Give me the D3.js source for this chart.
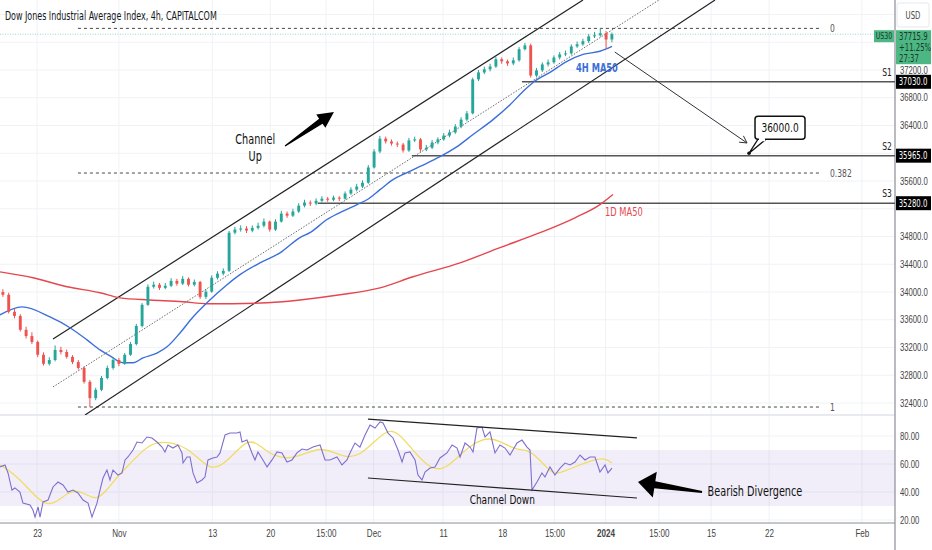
<!DOCTYPE html>
<html>
<head>
<meta charset="utf-8">
<script src="https://cdn.jsdelivr.net/npm/d3@7"></script>
<style>
  body { margin: 0; background: #fff; }
  svg { display: block; font-family: "DejaVu Sans Condensed", "DejaVu Sans", sans-serif; font-stretch: condensed; }
</style>
</head>
<body>
<div id="chart"></div>
<script>
// ---- data (12h candles, day index = trading days from the left edge) ----
const title = "Dow Jones Industrial Average Index, 4h, CAPITALCOM";
const firstOpen = 34000;
const closes = [
  33960, 33715, 33655, 33455, 33365, 33280, 33095, 32965, 33020, 33165,
  33135, 33065, 32990, 32905, 32705, 32470, 32590, 32760, 32905, 33020,
  32965, 33095, 33250, 33510, 33815, 34075, 34105, 34060, 34090, 34160,
  34120, 34190, 34105, 34145, 33930, 34005, 34205, 34265, 34305, 34855,
  34900, 34915, 34885, 34925, 34955, 35015, 34900, 35015, 35130, 35100,
  35160, 35245, 35290, 35275, 35315, 35345, 35330, 35360, 35345, 35420,
  35475, 35520, 35575, 35795, 36025, 36210, 36170, 36140, 36125, 36040,
  36185, 36200, 36055, 36080, 36155, 36200, 36255, 36300, 36385, 36485,
  36575, 37065, 37165, 37210, 37250, 37355, 37325, 37295, 37340, 37500,
  37555, 37120, 37195, 37280, 37310, 37380, 37425, 37440, 37540, 37570,
  37615, 37685, 37700, 37730, 37640, 37716
];
const highs = [
  34040, 33990, 33760, 33680, 33500, 33420, 33300, 33130, 33060, 33230,
  33210, 33170, 33090, 33020, 32930, 32730, 32620, 32790, 32940, 33060,
  33050, 33120, 33280, 33540, 33840, 34110, 34150, 34130, 34130, 34200,
  34190, 34230, 34210, 34180, 34160, 34040, 34240, 34300, 34340, 34880,
  34940, 34960, 34950, 34960, 35000, 35060, 35030, 35050, 35170, 35160,
  35200, 35280, 35330, 35320, 35350, 35380, 35370, 35390, 35380, 35450,
  35510, 35560, 35610, 35830, 36060, 36250, 36240, 36200, 36170, 36150,
  36220, 36240, 36220, 36120, 36190, 36230, 36290, 36340, 36420, 36520,
  36610, 37090, 37200, 37250, 37290, 37390, 37380, 37350, 37380, 37530,
  37590, 37580, 37230, 37310, 37350, 37410, 37460, 37480, 37570, 37610,
  37650, 37720, 37750, 37800, 37760, 37740
];
const lows = [
  33930, 33690, 33620, 33430, 33330, 33250, 33060, 32940, 32940, 33000,
  33100, 33040, 32960, 32880, 32680, 32340, 32440, 32570, 32740, 32880,
  32930, 32950, 33080, 33230, 33490, 33800, 34050, 34030, 34040, 34070,
  34090, 34100, 34080, 34080, 33900, 33900, 33990, 34180, 34240, 34290,
  34830, 34870, 34850, 34860, 34900, 34930, 34870, 34880, 35000, 35070,
  35080, 35140, 35220, 35240, 35250, 35290, 35300, 35310, 35310, 35330,
  35400, 35450, 35500, 35560, 35780, 36000, 36140, 36110, 36090, 36010,
  36020, 36160, 36020, 36030, 36060, 36130, 36180, 36230, 36280, 36360,
  36460, 36560, 37040, 37140, 37180, 37230, 37290, 37260, 37270, 37320,
  37480, 37090, 37100, 37170, 37250, 37290, 37350, 37400, 37420, 37520,
  37550, 37590, 37660, 37680, 37500, 37600
];

// moving averages as [day, value]
const ma4h = [
  [0, 33670], [1.9, 33785], [4.31, 33640], [6.03, 33485], [7.5, 33310], [8.62, 33165],
  [9.48, 33080], [10.6, 32980], [11.47, 32980], [12.33, 33050], [13.53, 33120],
  [14.4, 33210], [15.52, 33410], [16.64, 33640], [17.84, 33845], [19.57, 34105],
  [20.69, 34250], [22.41, 34420], [24.14, 34565], [25.86, 34785], [26.72, 34855],
  [28.19, 35045], [29.31, 35145], [30.78, 35260], [31.64, 35330], [32.76, 35475],
  [33.88, 35620], [35.09, 35720], [36.21, 35810], [37.93, 35950], [39.4, 36095],
  [40.78, 36270], [42.5, 36485], [43.97, 36700], [45.09, 36890], [45.95, 37020],
  [47.41, 37165], [48.88, 37325], [50.26, 37425], [51.72, 37470], [52.76, 37540]
];
const ma1d = [
  [0, 34290], [2.84, 34205], [5.78, 34075], [8.62, 33990], [10.34, 33915], [12.93, 33885],
  [15.78, 33860], [17.84, 33830], [20.09, 33830], [23.02, 33845], [25.86, 33885],
  [29.31, 33960], [32.76, 34060], [35.6, 34220], [39.66, 34420], [43.1, 34640],
  [46.55, 34855], [49.57, 35070], [51.72, 35260], [52.84, 35405]
];

// RSI (14) and its moving average as [day, value]
const rsi = [
  [0, 57.9], [0.43, 59.3], [0.69, 53.6], [1.03, 41.4], [1.29, 42.9], [1.72, 40], [1.98, 32.1],
  [2.59, 30.7], [2.84, 27.1], [3.02, 22.1], [3.28, 29.3], [3.45, 22.1], [3.71, 32.9], [4.14, 34.3],
  [4.57, 43.6], [5, 47.1], [5.43, 45], [5.86, 40], [6.29, 41.4], [6.72, 39.3], [7.16, 34.3],
  [7.59, 32.1], [7.93, 22.1], [8.36, 32.1], [8.62, 41.4], [8.88, 50], [9.22, 55.7], [9.48, 48.6],
  [9.74, 55.7], [10.17, 52.1], [10.52, 53.6], [10.78, 62.9], [11.03, 65], [11.47, 70], [11.81, 75.7],
  [12.24, 75], [12.67, 79.3], [13.1, 78.6], [13.53, 75.7], [13.97, 72.1], [14.22, 68.6], [14.48, 73.6],
  [14.91, 71.4], [15.34, 73.6], [15.69, 67.9], [15.78, 60.7], [16.12, 65], [16.38, 65], [16.64, 53.6],
  [16.98, 46.4], [17.41, 48.6], [17.67, 50.7], [17.93, 62.9], [18.36, 64.3], [18.71, 65], [18.97, 67.9],
  [19.4, 80.7], [19.83, 82.1], [20.43, 82.1], [20.69, 82.9], [20.86, 75.7], [21.29, 77.1], [21.72, 67.9],
  [21.98, 62.9], [22.24, 68.6], [22.67, 62.9], [23.02, 57.9], [23.45, 62.9], [23.88, 68.6], [24.31, 67.9],
  [24.74, 61.4], [25.17, 62.9], [25.6, 67.9], [26.03, 70.7], [26.47, 70], [26.98, 72.1], [27.59, 73.6],
  [28.02, 62.9], [28.45, 62.9], [29.05, 65], [29.48, 59.3], [29.91, 62.9], [30.17, 67.9], [30.6, 75],
  [31.03, 72.1], [31.47, 80.7], [31.9, 87.9], [32.33, 85.7], [32.76, 90], [33.02, 89.3], [33.45, 82.1],
  [33.88, 78.6], [34.31, 70], [34.66, 61.4], [34.91, 67.9], [35.34, 68.6], [35.78, 62.9], [36.03, 52.1],
  [36.38, 48.6], [36.64, 54.3], [37.07, 57.1], [37.5, 57.9], [37.93, 64.3], [38.53, 67.9], [38.97, 73.6],
  [39.4, 71.4], [39.66, 65], [40.09, 75], [40.52, 72.1], [40.78, 68.6], [41.12, 85.7], [41.55, 86.4],
  [41.81, 79.3], [42.24, 82.9], [42.67, 67.9], [43.1, 73.6], [43.53, 71.4], [43.97, 66.4], [44.57, 75],
  [45, 77.1], [45.43, 72.1], [45.69, 70], [45.86, 41.4], [46.29, 47.1], [46.72, 53.6], [46.98, 50.7],
  [47.41, 57.9], [47.84, 52.1], [48.28, 57.1], [48.71, 60.7], [49.14, 59.3], [49.57, 61.4], [50, 66.4],
  [50.43, 62.9], [50.86, 65], [51.29, 65], [51.72, 54.3], [52.16, 59.3], [52.41, 53.6], [52.76, 57.1]
];
const rsiMa = [
  [0, 59.3], [1.12, 53.6], [2.33, 43.6], [3.19, 35.7], [4.05, 30.7], [4.91, 32.9], [5.78, 39.3],
  [6.64, 41.4], [7.5, 37.9], [8.36, 34.3], [9.22, 41.4], [10.09, 50.7], [10.95, 57.9], [12.07, 67.9],
  [13.19, 75], [14.05, 75.7], [14.91, 75], [16.12, 71.4], [17.24, 62.9], [18.1, 57.1], [18.97, 57.9],
  [20.09, 66.4], [21.29, 77.1], [22.16, 75], [23.02, 68.6], [24.14, 64.3], [25.26, 64.3], [26.47, 67.9],
  [27.59, 71.4], [28.71, 68.6], [29.91, 64.3], [31.03, 66.4], [32.16, 75], [33.36, 84.3], [34.22, 82.9],
  [35.09, 75], [35.95, 66.4], [36.81, 59.3], [37.67, 55.7], [38.53, 57.9], [39.4, 64.3], [40.78, 75],
  [42.24, 79.3], [43.36, 75], [44.57, 70], [45.52, 70], [46.29, 65], [47.16, 57.1], [47.84, 52.1],
  [48.88, 55.7], [50, 59.3], [51.12, 62.9], [52.16, 64.3], [52.76, 60.7]
];

// levels
const supportNames = ["S1", "S2", "S3"];
const supportValues = [37030, 35965, 35280];
const supportFromDay = [45, 35.5, 27.4];
const fibNames = ["0", "0.382", "1"];
const fibValues = [37800, 35715, 32342];
const lastPrice = 37715.9;
const lastChange = "+11.25%";
const countdown = "27:37";
const target = 36000;

// axis ticks
const priceTicks = [37200, 36800, 36400, 35600, 34800, 34400, 34000, 33600, 33200, 32800, 32400];
const rsiTicks = [80, 60, 40, 20];
const timeTickDays = [3.2, 10.25, 18.3, 23.3, 28.1, 32.2, 38.2, 43.3, 47.8, 52.2, 56.8, 61.3, 66.3, 74.3];
const timeTickLabels = ["23", "Nov", "13", "20", "15:00", "Dec", "11", "18", "15:00", "2024", "15:00", "15", "22", "Feb"];

// ---- layout ----
const W = 932, H = 550;
const plotRight = 895;
const priceTop = 0, priceBottom = 415, rsiBottom = 523;
const up = "#26a69a", down = "#ef5350";

const svg = d3.select("#chart").append("svg")
  .attr("width", W).attr("height", H)
  .attr("viewBox", [0, 0, W, H]);

const x = d3.scaleLinear().domain([0, 77.155]).range([0, plotRight]);
const y = d3.scaleLinear().domain([32400, 37200]).range([403, 70]);
const yr = d3.scaleLinear().domain([40, 80]).range([492, 436]);

const defs = svg.append("defs");
defs.append("clipPath").attr("id", "clipPrice")
  .append("rect").attr("x", 0).attr("y", priceTop).attr("width", plotRight).attr("height", priceBottom - priceTop);
defs.append("clipPath").attr("id", "clipRsi")
  .append("rect").attr("x", 0).attr("y", priceBottom).attr("width", plotRight).attr("height", rsiBottom - priceBottom);

// grid
const grid = svg.append("g").attr("stroke", "#f0f2f6").attr("stroke-width", 1);
grid.selectAll("line.v").data(timeTickDays).join("line")
  .attr("x1", d => x(d)).attr("x2", d => x(d)).attr("y1", 0).attr("y2", rsiBottom);
grid.selectAll("line.h").data(d3.range(32400, 38001, 400)).join("line")
  .attr("x1", 0).attr("x2", plotRight).attr("y1", d => y(d)).attr("y2", d => y(d));
grid.selectAll("line.r").data(rsiTicks).join("line")
  .attr("x1", 0).attr("x2", plotRight).attr("y1", d => yr(d)).attr("y2", d => yr(d));

// RSI band 30-70
svg.append("rect")
  .attr("x", 0).attr("width", plotRight)
  .attr("y", yr(70)).attr("height", yr(30) - yr(70))
  .attr("fill", "rgba(126,87,194,0.1)");

// pane separators / axis lines
svg.append("line").attr("x1", 0).attr("x2", plotRight).attr("y1", priceBottom).attr("y2", priceBottom)
  .attr("stroke", "#e0e3eb").attr("stroke-width", 1.5);
svg.append("line").attr("x1", 0).attr("x2", plotRight).attr("y1", rsiBottom).attr("y2", rsiBottom)
  .attr("stroke", "#8a8e97").attr("stroke-width", 1.2);
svg.append("line").attr("x1", plotRight).attr("x2", plotRight).attr("y1", 0).attr("y2", H)
  .attr("stroke", "#8a8e97").attr("stroke-width", 1.2);

// ---- price pane ----
const pg = svg.append("g").attr("clip-path", "url(#clipPrice)");

// last price line
pg.append("line").attr("x1", 0).attr("x2", plotRight)
  .attr("y1", y(lastPrice)).attr("y2", y(lastPrice))
  .attr("stroke", up).attr("stroke-opacity", 0.45).attr("stroke-dasharray", "1,1.5");

// fib dashed levels
fibValues.forEach((v, i) => {
  pg.append("line")
    .attr("x1", x(6.72)).attr("x2", x(70.86))
    .attr("y1", y(v)).attr("y2", y(v))
    .attr("stroke", "#333").attr("stroke-width", 0.9).attr("stroke-dasharray", "3,3");
  pg.append("text")
    .attr("x", x(71.55)).attr("y", y(v)).attr("dy", "0.35em")
    .attr("fill", "#555").style("font-size", "11px")
    .text(fibNames[i]);
});

// support levels
supportValues.forEach((v, i) => {
  pg.append("line")
    .attr("x1", x(supportFromDay[i])).attr("x2", plotRight)
    .attr("y1", y(v)).attr("y2", y(v))
    .attr("stroke", "#555").attr("stroke-width", 1.5);
  pg.append("text")
    .attr("x", 887).attr("y", y(v) - 10).attr("dy", "0.35em")
    .attr("text-anchor", "middle").attr("fill", "#222").style("font-size", "11px")
    .text(supportNames[i]);
});

// channel lines
const chan = (d1, p1, d2, p2) => pg.append("line")
  .attr("x1", x(d1)).attr("y1", y(p1)).attr("x2", x(d2)).attr("y2", y(p2));
chan(4.57, 33322, 50.26, 38209).attr("stroke", "#222").attr("stroke-width", 1.2);
chan(7.33, 32227, 61.64, 38209).attr("stroke", "#222").attr("stroke-width", 1.2);
chan(4.57, 32631, 56.9, 38219).attr("stroke", "#444").attr("stroke-width", 0.8).attr("stroke-dasharray", "1.5,1.5");

// moving averages
const maLine = d3.line().x(d => x(d[0])).y(d => y(d[1])).curve(d3.curveMonotoneX);
pg.append("path").datum(ma1d).attr("fill", "none").attr("stroke", "#e5474e").attr("stroke-width", 1.4).attr("d", maLine);
pg.append("path").datum(ma4h).attr("fill", "none").attr("stroke", "#3b6fd9").attr("stroke-width", 1.4).attr("d", maLine);

// candles
const candles = closes.map((c, i) => ({
  day: (i + 0.5) / 2,
  open: i === 0 ? firstOpen : closes[i - 1],
  close: c,
  high: highs[i],
  low: lows[i],
}));
const bodyW = (x(0.5) - x(0)) * 0.5;
const cg = pg.append("g");
cg.selectAll("line").data(candles).join("line")
  .attr("x1", d => x(d.day)).attr("x2", d => x(d.day))
  .attr("y1", d => y(d.high)).attr("y2", d => y(d.low))
  .attr("stroke", d => d.close >= d.open ? up : down).attr("stroke-width", 1);
cg.selectAll("rect").data(candles).join("rect")
  .attr("x", d => x(d.day) - bodyW / 2).attr("width", bodyW)
  .attr("y", d => y(Math.max(d.open, d.close)))
  .attr("height", d => Math.max(1, Math.abs(y(d.open) - y(d.close))))
  .attr("fill", d => d.close >= d.open ? up : down);

// MA labels
pg.append("text").attr("x", x(49.66)).attr("y", y(37229)).attr("dy", "0.35em")
  .attr("fill", "#3b6fd9").style("font-size", "12px").style("font-weight", "bold").text("4H MA50");
pg.append("text").attr("x", x(52.16)).attr("y", y(35153)).attr("dy", "0.35em")
  .attr("fill", "#e5474e").style("font-size", "12px").text("1D MA50");

// fat arrow helper
function fatArrow(g, x1, y1, x2, y2, tailHalf, shaftHalf, headHalf, headLen) {
  const dx = x2 - x1, dy = y2 - y1, L = Math.hypot(dx, dy);
  const ux = dx / L, uy = dy / L, nx = -uy, ny = ux;
  const bx = x2 - ux * headLen, by = y2 - uy * headLen;
  const pts = [
    [x1 + nx * tailHalf, y1 + ny * tailHalf],
    [bx + nx * shaftHalf, by + ny * shaftHalf],
    [bx + nx * headHalf, by + ny * headHalf],
    [x2, y2],
    [bx - nx * headHalf, by - ny * headHalf],
    [bx - nx * shaftHalf, by - ny * shaftHalf],
    [x1 - nx * tailHalf, y1 - ny * tailHalf],
  ];
  g.append("path").attr("d", "M" + pts.join("L") + "Z").attr("fill", "#000");
}

// Channel Up annotation
fatArrow(pg, x(24.57), y(36104), x(28.79), y(36594), 0.6, 3, 8, 16);
pg.append("text").attr("x", x(22)).attr("y", y(36205)).attr("dy", "0.35em")
  .attr("text-anchor", "middle").attr("fill", "#111").style("font-size", "14px").text("Channel");
pg.append("text").attr("x", x(22)).attr("y", y(35960)).attr("dy", "0.35em")
  .attr("text-anchor", "middle").attr("fill", "#111").style("font-size", "14px").text("Up");

// projection arrow
const ax1 = x(53.0), ay1 = y(37459), ax2 = x(64.4), ay2 = y(36148);
pg.append("line").attr("x1", ax1).attr("y1", ay1).attr("x2", ax2).attr("y2", ay2)
  .attr("stroke", "#333").attr("stroke-width", 1);
{
  const ang = Math.atan2(ay2 - ay1, ax2 - ax1);
  const hl = 8;
  [-0.5, 0.5].forEach(a => {
    pg.append("line").attr("x1", ax2).attr("y1", ay2)
      .attr("x2", ax2 - hl * Math.cos(ang + a)).attr("y2", ay2 - hl * Math.sin(ang + a))
      .attr("stroke", "#333").attr("stroke-width", 1);
  });
}

// callout 36000.0
{
  const px = x(64.57), py = y(target);
  const bx = px + 6, by = py - 37, bw = 50, bh = 23;
  pg.append("path")
    .attr("d", `M${px},${py}L${bx + 3},${by + bh}L${bx + 11},${by + bh}Z`)
    .attr("fill", "#fff").attr("stroke", "#111").attr("stroke-width", 1.3);
  pg.append("rect").attr("x", bx).attr("y", by).attr("width", bw).attr("height", bh)
    .attr("rx", 3).attr("fill", "#fff").attr("stroke", "#111").attr("stroke-width", 1.5);
  pg.append("rect").attr("x", bx + 4).attr("y", by + bh - 2).attr("width", 6).attr("height", 4).attr("fill", "#fff");
  pg.append("circle").attr("cx", px).attr("cy", py).attr("r", 1.8).attr("fill", "#111");
  pg.append("text").attr("x", bx + bw / 2).attr("y", by + bh / 2).attr("dy", "0.35em")
    .attr("text-anchor", "middle").attr("fill", "#111").style("font-size", "13px")
    .text(d3.format(".1f")(target));
}

// ---- RSI pane ----
const rg = svg.append("g").attr("clip-path", "url(#clipRsi)");
rg.append("path").datum(rsiMa).attr("fill", "none").attr("stroke", "#f1dc63").attr("stroke-width", 1.3)
  .attr("d", d3.line().x(d => x(d[0])).y(d => yr(d[1])).curve(d3.curveBasis));
rg.append("path").datum(rsi).attr("fill", "none").attr("stroke", "#7e6fcf").attr("stroke-width", 1.1)
  .attr("d", d3.line().x(d => x(d[0])).y(d => yr(d[1])));

rg.append("line").attr("x1", x(31.72)).attr("y1", yr(92.1)).attr("x2", x(54.91)).attr("y2", yr(78.6))
  .attr("stroke", "#222").attr("stroke-width", 1.2);
rg.append("line").attr("x1", x(31.72)).attr("y1", yr(50)).attr("x2", x(54.91)).attr("y2", yr(35.7))
  .attr("stroke", "#222").attr("stroke-width", 1.2);
rg.append("text").attr("x", x(43.3)).attr("y", yr(35)).attr("dy", "0.35em")
  .attr("text-anchor", "middle").attr("fill", "#111").style("font-size", "13px").text("Channel Down");

fatArrow(rg, x(60.52), yr(40.0), x(55.0), yr(47.1), 1, 3.5, 13, 17);
rg.append("text").attr("x", x(61.0)).attr("y", yr(40.7)).attr("dy", "0.35em")
  .attr("fill", "#111").style("font-size", "14px").text("Bearish Divergence");

// ---- axes ----
const axisText = sel => sel.selectAll("text").attr("fill", "#444").style("font-size", "10px")
  .style("font-family", null);

svg.append("g").attr("transform", `translate(${plotRight},0)`)
  .call(d3.axisRight(y).tickValues(priceTicks).tickFormat(d3.format(".1f")).tickSize(0).tickPadding(5))
  .call(g => g.select(".domain").remove())
  .call(axisText);

svg.append("g").attr("transform", `translate(${plotRight},0)`)
  .call(d3.axisRight(yr).tickValues(rsiTicks).tickFormat(d3.format(".2f")).tickSize(0).tickPadding(5))
  .call(g => g.select(".domain").remove())
  .call(axisText);

svg.append("g").attr("transform", `translate(0,${rsiBottom})`)
  .call(d3.axisBottom(x).tickValues(timeTickDays).tickFormat((d, i) => timeTickLabels[i]).tickSize(0).tickPadding(7))
  .call(g => g.select(".domain").remove())
  .call(axisText)
  .call(g => g.selectAll("text").style("font-size", "10.5px"))
  .call(g => g.selectAll("text").filter(d => timeTickLabels[timeTickDays.indexOf(d)] === "2024").style("font-weight", "bold"));

// level price tags on the axis
supportValues.forEach(v => {
  svg.append("rect").attr("x", plotRight + 1).attr("y", y(v) - 7).attr("width", 35).attr("height", 14).attr("fill", "#000");
  svg.append("text").attr("x", plotRight + 18).attr("y", y(v)).attr("dy", "0.35em")
    .attr("text-anchor", "middle").attr("fill", "#fff").style("font-size", "10px")
    .text(d3.format(".1f")(v));
});

// last price tag
{
  const ly = y(lastPrice);
  const green = "#4cb783";
  svg.append("rect").attr("x", plotRight + 1).attr("y", ly - 4).attr("width", 35).attr("height", 34).attr("fill", green);
  [d3.format(".1f")(lastPrice), lastChange, countdown].forEach((t, i) => {
    svg.append("text").attr("x", plotRight + 4).attr("y", ly + 2 + i * 11).attr("dy", "0.35em")
      .attr("fill", "#173a2a").style("font-size", "10px").text(t);
  });
  svg.append("rect").attr("x", 874).attr("y", ly - 4).attr("width", 20).attr("height", 12).attr("fill", green);
  svg.append("text").attr("x", 884).attr("y", ly + 2).attr("dy", "0.35em").attr("text-anchor", "middle")
    .attr("fill", "#173a2a").style("font-size", "9px").text("US30");
}

// currency box
svg.append("rect").attr("x", plotRight + 2).attr("y", 3).attr("width", 32).attr("height", 24)
  .attr("rx", 2).attr("fill", "#fff").attr("stroke", "#e6e8ee");
svg.append("text").attr("x", plotRight + 18).attr("y", 16).attr("dy", "0.35em").attr("text-anchor", "middle")
  .attr("fill", "#444").style("font-size", "10px").text("USD");

// title
const titleText = svg.append("text").attr("x", 5).attr("y", 16).attr("dy", "0.35em")
  .attr("fill", "#131722").style("font-size", "11.5px").text(title);

// narrow the lettering the way the screenshot's condensed UI font looks
const squeeze = Math.min(1, 212 / titleText.node().getComputedTextLength());
if (squeeze < 0.98) {
  svg.selectAll("text").each(function () {
    const ax = +this.getAttribute("x") || 0;
    this.setAttribute("transform", `translate(${ax},0) scale(${squeeze},1) translate(${-ax},0)`);
  });
}
</script>
</body>
</html>
